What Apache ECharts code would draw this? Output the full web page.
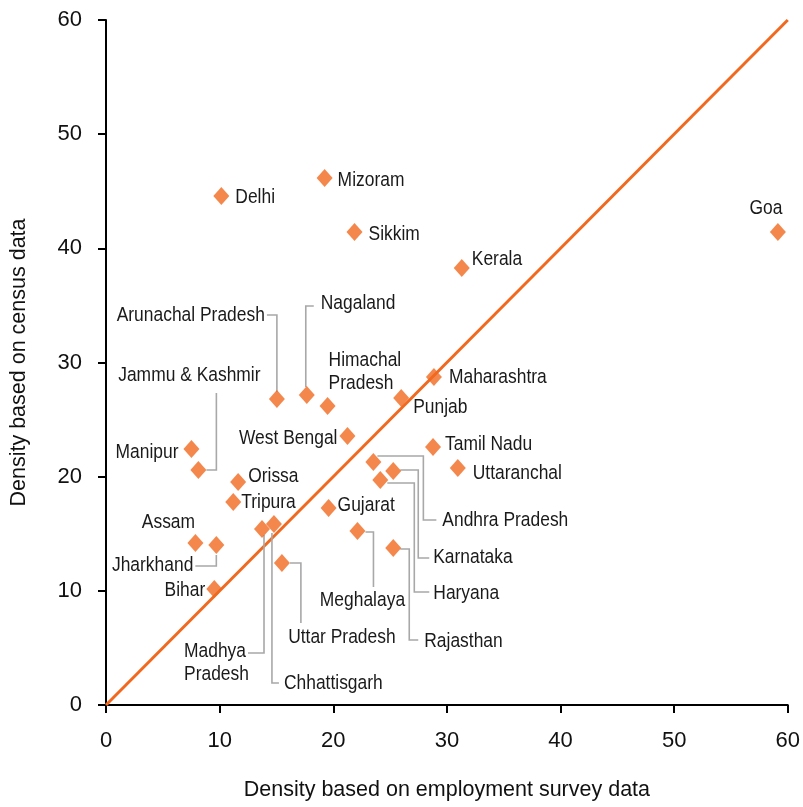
<!DOCTYPE html>
<html>
    <head>
        <meta charset="utf-8">
        <script src="https://cdn.jsdelivr.net/npm/echarts@6/dist/echarts.min.js"></script>
    </head>
    <body>
        <style>
            html, body, #main {
                width: 100%;
                height: 100%;
                margin: 0;
                background: #fff;
            }
        </style>
        <div id="main"></div>
        <script>

            var states = [
                'Delhi', 'Mizoram', 'Sikkim', 'Kerala', 'Goa',
                'Arunachal Pradesh', 'Nagaland', 'Himachal Pradesh', 'Maharashtra', 'Punjab',
                'West Bengal', 'Manipur', 'Jammu & Kashmir', 'Orissa', 'Tripura',
                'Tamil Nadu', 'Uttaranchal', 'Andhra Pradesh', 'Karnataka', 'Haryana',
                'Gujarat', 'Meghalaya', 'Rajasthan', 'Assam', 'Jharkhand',
                'Bihar', 'Madhya Pradesh', 'Chhattisgarh', 'Uttar Pradesh'
            ];
            var employmentDensity = [
                10.15, 19.24, 21.87, 31.31, 59.13,
                15.04, 17.67, 19.50, 28.86, 25.98,
                21.25, 7.52, 8.13, 11.63, 11.20,
                28.78, 30.96, 23.53, 25.28, 24.14,
                19.59, 22.13, 25.28, 7.87, 9.71,
                9.53, 13.73, 14.78, 15.48
            ];
            var censusDensity = [
                44.58, 46.16, 41.43, 38.28, 41.43,
                26.80, 27.15, 26.19, 28.73, 26.89,
                23.56, 22.42, 20.58, 19.53, 17.78,
                22.60, 20.76, 21.28, 20.50, 19.71,
                17.25, 15.24, 13.75, 14.19, 14.01,
                10.16, 15.42, 15.85, 12.44
            ];
            var axisTicks = [0, 10, 20, 30, 40, 50, 60];

            // label placement in pixels relative to each point; leader = elbow line offsets
            var labelLayout = {
                'Delhi': { dx: 14, dy: 1 },
                'Mizoram': { dx: 13, dy: 2 },
                'Sikkim': { dx: 14, dy: 2 },
                'Kerala': { dx: 10, dy: -9 },
                'Goa': { dx: -12, dy: -24, align: 'center' },
                'Arunachal Pradesh': { dx: -12, dy: -84, align: 'right',
                    leader: [[0, -7], [0, -84], [-10, -84]] },
                'Nagaland': { dx: 14, dy: -92,
                    leader: [[-1, -8], [-1, -89], [7, -89]] },
                'Himachal Pradesh': { dx: 1, dy: -34, text: 'Himachal\nPradesh' },
                'Maharashtra': { dx: 15, dy: 0 },
                'Punjab': { dx: 12, dy: 9 },
                'West Bengal': { dx: -10, dy: 2, align: 'right' },
                'Manipur': { dx: -13, dy: 3, align: 'right' },
                'Jammu & Kashmir': { dx: -9, dy: -95, align: 'center',
                    leader: [[8, 0], [18, 0], [18, -77]] },
                'Orissa': { dx: 10, dy: -6 },
                'Tripura': { dx: 8, dy: 0 },
                'Tamil Nadu': { dx: 12, dy: -3 },
                'Uttaranchal': { dx: 15, dy: 5 },
                'Andhra Pradesh': { dx: 69, dy: 58,
                    leader: [[4, -6], [50, -6], [50, 58], [63, 58]] },
                'Karnataka': { dx: 40, dy: 86,
                    leader: [[7, -1], [25, -1], [25, 87], [36, 87]] },
                'Haryana': { dx: 53, dy: 113,
                    leader: [[7, 3], [34, 3], [34, 112], [49, 112]] },
                'Gujarat': { dx: 9, dy: -3 },
                'Meghalaya': { dx: 5, dy: 69, align: 'center',
                    leader: [[8, 1], [16, 1], [16, 56]] },
                'Rajasthan': { dx: 31, dy: 93,
                    leader: [[7, 1], [16, 1], [16, 92], [25, 92]] },
                'Assam': { dx: -27, dy: -21, align: 'center' },
                'Jharkhand': { dx: -23, dy: 20, align: 'right',
                    leader: [[0, 10], [0, 21], [-21, 21]] },
                'Bihar': { dx: -9, dy: 1, align: 'right' },
                'Madhya Pradesh': { dx: -78, dy: 134, text: 'Madhya\nPradesh',
                    leader: [[2, 6], [2, 124], [-14, 124]] },
                'Chhattisgarh': { dx: 10, dy: 159,
                    leader: [[-2, 9], [-2, 159], [5, 159]] },
                'Uttar Pradesh': { dx: 60, dy: 74, align: 'center',
                    leader: [[8, 0], [19, 0], [19, 60]] }
            };

            var orange = '#F0691F';
            var labelFont = '"Liberation Sans", Arial, sans-serif';
            var axisFont = '"Liberation Sans", Arial, sans-serif';

            var points = states.map(function (name, i) {
                return [employmentDensity[i], censusDensity[i], i];
            });

            var chart = echarts.init(document.getElementById('main'));

            chart.setOption({
                animation: false,
                grid: {
                    left: 104,
                    right: 13,
                    top: 20,
                    bottom: 102
                },
                xAxis: {
                    type: 'value',
                    min: axisTicks[0],
                    max: axisTicks[axisTicks.length - 1],
                    interval: 10,
                    name: 'Density based on employment survey data',
                    nameLocation: 'middle',
                    nameGap: 74,
                    nameTextStyle: { fontFamily: axisFont, fontSize: 21.5, color: '#111' },
                    axisLine: { lineStyle: { color: '#000', width: 2 } },
                    axisTick: { length: 8, lineStyle: { color: '#000', width: 2 } },
                    axisLabel: { margin: 25, fontFamily: axisFont, fontSize: 22, color: '#111' },
                    splitLine: { show: false }
                },
                yAxis: {
                    type: 'value',
                    min: axisTicks[0],
                    max: axisTicks[axisTicks.length - 1],
                    interval: 10,
                    name: 'Density based on census data',
                    nameLocation: 'middle',
                    nameGap: 76,
                    nameTextStyle: { fontFamily: axisFont, fontSize: 21.5, color: '#111' },
                    axisLine: { show: true, lineStyle: { color: '#000', width: 2 } },
                    axisTick: { show: true, length: 8, lineStyle: { color: '#000', width: 2 } },
                    axisLabel: { margin: 24, fontFamily: axisFont, fontSize: 22, color: '#111' },
                    splitLine: { show: false }
                },
                series: [
                    {
                        // 45-degree reference line
                        type: 'line',
                        data: [[axisTicks[0], axisTicks[0]], [axisTicks[6], axisTicks[6]]],
                        symbol: 'none',
                        silent: true,
                        lineStyle: { color: orange, width: 3 },
                        z: 1
                    },
                    {
                        type: 'custom',
                        silent: true,
                        clip: false,
                        z: 2,
                        data: points,
                        encode: { x: 0, y: 1 },
                        renderItem: function (params, api) {
                            var i = api.value(2);
                            var name = states[i];
                            var lay = labelLayout[name];
                            var p = api.coord([api.value(0), api.value(1)]);
                            var children = [];
                            if (lay.leader) {
                                children.push({
                                    type: 'polyline',
                                    shape: {
                                        points: lay.leader.map(function (o) {
                                            return [p[0] + o[0], p[1] + o[1]];
                                        })
                                    },
                                    style: { stroke: '#A8A8A8', lineWidth: 1.6, fill: null }
                                });
                            }
                            // condensed look: squeeze the glyphs horizontally
                            children.push({
                                type: 'text',
                                x: p[0] + lay.dx,
                                y: p[1] + lay.dy,
                                scaleX: 0.85,
                                style: {
                                    text: lay.text || name,
                                    fill: '#1a1a1a',
                                    fontFamily: labelFont,
                                    fontSize: 20.5,
                                    lineHeight: 23,
                                    textAlign: lay.align || 'left',
                                    textVerticalAlign: 'middle'
                                }
                            });
                            return { type: 'group', children: children };
                        }
                    },
                    {
                        type: 'scatter',
                        symbol: 'diamond',
                        symbolSize: [16, 18],
                        itemStyle: { color: orange },
                        data: points,
                        z: 3
                    }
                ]
            });

        </script>
    </body>
</html>
